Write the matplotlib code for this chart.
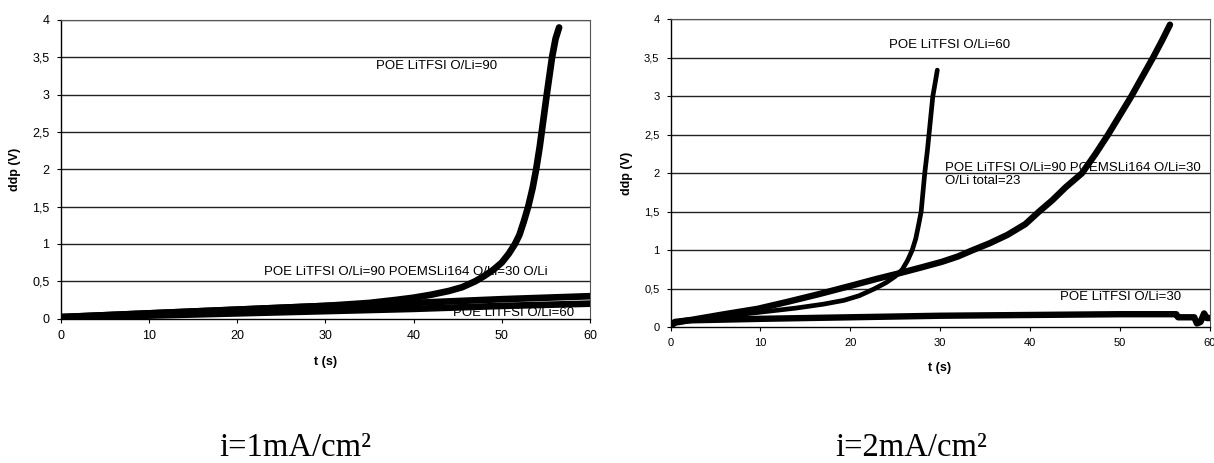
import matplotlib
matplotlib.use("Agg")
import matplotlib.pyplot as plt

plt.rcParams['font.family'] = ['Liberation Sans', 'DejaVu Sans']

# ---------------- data: left panel (i=1 mA/cm²) ----------------
L90_t = [0, 5, 10, 15, 20, 25, 30, 35, 38, 40, 42, 44, 45.5, 47, 48, 49, 50,
         50.8, 51.5, 52, 52.5, 53, 53.5, 53.9, 54.3, 54.7, 55.1, 55.4, 55.7,
         56.1, 56.5]
L90_v = [0.02, 0.045, 0.07, 0.095, 0.12, 0.145, 0.17, 0.21, 0.25, 0.28, 0.32,
         0.37, 0.42, 0.50, 0.57, 0.65, 0.75, 0.87, 1.0, 1.12, 1.3, 1.5, 1.75,
         2.0, 2.3, 2.65, 3.0, 3.25, 3.5, 3.75, 3.9]

Lmix_t = [0, 10, 20, 30, 40, 50, 60]
Lmix_v = [0.02, 0.07, 0.12, 0.17, 0.21, 0.26, 0.30]

L60_t = [0, 10, 20, 30, 40, 50, 60]
L60_v = [0.0, 0.04, 0.07, 0.10, 0.13, 0.17, 0.20]

# ---------------- data: right panel (i=2 mA/cm²) ----------------
R60_t = [0, 2, 5, 8, 11, 14, 17, 19.3, 21, 22.7, 24, 25, 25.8, 26.4, 26.9,
         27.3, 27.6, 27.9, 28.1, 28.3, 28.6, 28.9, 29.2, 29.5, 29.7]
R60_v = [0.05, 0.09, 0.13, 0.17, 0.21, 0.25, 0.30, 0.35, 0.41, 0.50, 0.58,
         0.66, 0.75, 0.87, 1.0, 1.15, 1.32, 1.5, 1.75, 2.0, 2.3, 2.65, 3.0,
         3.2, 3.34]

Rmix_t = [0, 1, 3, 6, 9.7, 13, 16.5, 20.1, 23, 25.4, 28, 30.2, 32, 33.6,
          35.5, 37.5, 39.5, 41, 42.5, 44, 45.8, 47.3, 48.7, 50, 51.3, 52.5,
          53.7, 54.7, 55.6]
Rmix_v = [0.05, 0.07, 0.11, 0.17, 0.24, 0.33, 0.43, 0.54, 0.63, 0.70, 0.78,
          0.85, 0.92, 1.0, 1.09, 1.2, 1.34, 1.5, 1.65, 1.82, 2.0, 2.25, 2.5,
          2.75, 3.0, 3.25, 3.5, 3.72, 3.93]

R30_t = [0, 0.5, 2, 10, 20, 30, 40, 50, 56.3, 56.5, 57.5, 58.3, 58.6, 59.0,
         59.4, 59.7, 60]
R30_v = [0.0, 0.07, 0.09, 0.11, 0.13, 0.15, 0.16, 0.17, 0.17, 0.13, 0.13,
         0.13, 0.05, 0.07, 0.18, 0.12, 0.12]

x_ticks = [0, 10, 20, 30, 40, 50, 60]
y_ticks = [0, 0.5, 1, 1.5, 2, 2.5, 3, 3.5, 4]
y_ticklabels = ["0", "0,5", "1", "1,5", "2", "2,5", "3", "3,5", "4"]

fig = plt.figure(figsize=(12.14, 4.63), dpi=100)

W, H = 1214, 463
def rect(x0, x1, ytop, ybot):
    return [x0 / W, 1 - ybot / H, (x1 - x0) / W, (ybot - ytop) / H]

axL = fig.add_axes(rect(60.5, 590, 20, 318.6))
axR = fig.add_axes(rect(670.5, 1209.5, 19.3, 327.3))

def style(ax, tick_fs, lab_fs):
    ax.set_xlim(0, 60)
    ax.set_ylim(0, 4)
    ax.set_xticks(x_ticks)
    ax.set_xticklabels([str(t) for t in x_ticks], fontsize=tick_fs)
    ax.set_yticks(y_ticks)
    ax.set_yticklabels(y_ticklabels, fontsize=tick_fs)
    ax.tick_params(direction='out', length=3, width=0.8, pad=5)
    for y in y_ticks[1:]:
        ax.axhline(y, color='#222222', lw=1.0, zorder=1)
    for s in ['left', 'bottom']:
        ax.spines[s].set_linewidth(1.0)
        ax.spines[s].set_color('black')
    for s in ['right', 'top']:
        ax.spines[s].set_linewidth(0.8)
        ax.spines[s].set_color('#555555')
    ax.set_xlabel("t (s)", fontsize=lab_fs, fontweight='bold', labelpad=10)
    ax.set_ylabel("ddp (V)", fontsize=lab_fs, fontweight='bold', labelpad=8)

style(axL, 9, 9)
style(axR, 8, 9)

lw = 4.8
axL.plot(L60_t, L60_v, color='black', lw=lw, zorder=3, solid_capstyle='round')
axL.plot(Lmix_t, Lmix_v, color='black', lw=lw, zorder=3, solid_capstyle='round')
axL.plot(L90_t, L90_v, color='black', lw=lw, zorder=3, solid_capstyle='round',
         solid_joinstyle='round')

axL.text(35.8, 3.39, "POE LiTFSI O/Li=90", fontsize=9.5, va='center', ha='left', zorder=2)
axL.text(23.1, 0.62, "POE LiTFSI O/Li=90 POEMSLi164 O/Li=30 O/Li", fontsize=9.5,
         va='center', ha='left', zorder=2)
axL.text(44.5, 0.07, "POE LiTFSI O/Li=60", fontsize=9.5, va='center', ha='left', zorder=2)

axR.plot(R30_t, R30_v, color='black', lw=4.6, zorder=3, solid_capstyle='round')
axR.plot(Rmix_t, Rmix_v, color='black', lw=4.6, zorder=3, solid_capstyle='round',
         solid_joinstyle='round')
axR.plot(R60_t, R60_v, color='black', lw=3.4, zorder=3, solid_capstyle='round',
         solid_joinstyle='round')

axR.text(24.3, 3.67, "POE LiTFSI O/Li=60", fontsize=9.5, va='center', ha='left', zorder=2)
axR.text(30.6, 1.98, "POE LiTFSI O/Li=90 POEMSLi164 O/Li=30\nO/Li total=23", fontsize=9.5,
         va='center', ha='left', zorder=2, linespacing=1.1)
axR.text(43.4, 0.40, "POE LiTFSI O/Li=30", fontsize=9.5, va='center', ha='left', zorder=2)

fig.text(295 / W, 1 - 456 / H, "i=1mA/cm²", fontsize=23.5, ha='center', va='baseline',
         family=['Liberation Serif', 'DejaVu Serif'])
fig.text(911 / W, 1 - 456 / H, "i=2mA/cm²", fontsize=23.5, ha='center', va='baseline',
         family=['Liberation Serif', 'DejaVu Serif'])

fig.savefig("out.png", dpi=100)
